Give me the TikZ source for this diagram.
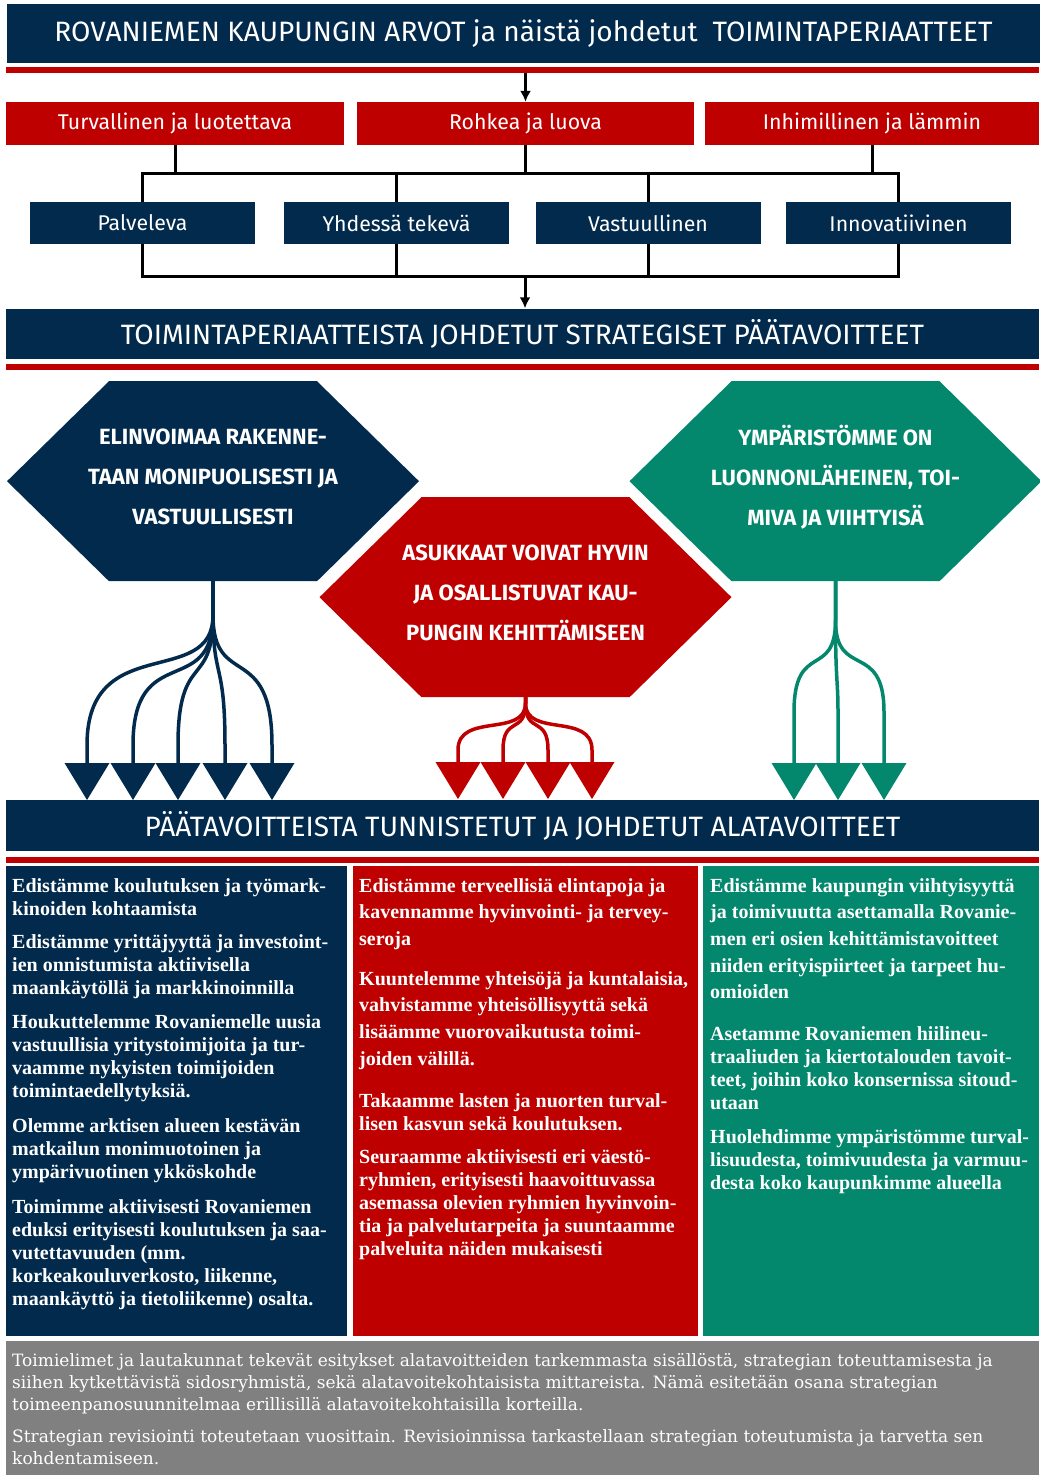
\documentclass[tikz,border=0pt]{standalone}
\usepackage{fontspec}
\setmainfont{Liberation Serif}
\newfontfamily\titlefont{Fira Sans}
\newfontfamily\notefont{DejaVu Serif}
\usetikzlibrary{arrows.meta}
\definecolor{rvnavy}{HTML}{022A4C}
\definecolor{rvred}{HTML}{BE0000}
\definecolor{rvgreen}{HTML}{03876D}
\definecolor{rvgray}{HTML}{808080}
\pgfdeclarelayer{back}
\pgfsetlayers{back,main}

\begin{document}
\begin{tikzpicture}[x=1pt,y=-1pt,>={Latex[length=11pt,width=11pt]},
  bar/.style={fill=rvnavy,text=white,minimum width=1033pt,inner sep=0pt,font=\titlefont\fontsize{28}{32}\selectfont},
  rule/.style={fill=rvred,minimum width=1033pt,minimum height=6pt,inner sep=0pt},
  value/.style={fill=rvred,text=white,minimum height=43pt,inner sep=0pt,font=\titlefont\fontsize{21.3}{24}\selectfont},
  principle/.style={fill=rvnavy,text=white,minimum width=225pt,minimum height=42pt,inner sep=0pt,font=\titlefont\fontsize{21.3}{24}\selectfont},
  conn/.style={line width=3pt},
  goal/.style={text=white,align=center,inner sep=0pt,minimum height=208pt,font=\titlefont\bfseries\fontsize{22}{40}\selectfont},
  branch/.style={line width=3.5pt,draw=#1,-{Triangle[width=45pt,length=37pt,line width=0pt]}},
  col/.style={fill=#1,anchor=north west,minimum height=470pt,inner sep=0pt},
  aim/.style={anchor=north west,align=left,text=white,inner sep=0pt,font=\bfseries\fontsize{20}{23}\selectfont},
  wide/.style={font=\bfseries\fontsize{20}{26.7}\selectfont},
  note/.style={anchor=north west,align=left,text=white,inner sep=0pt,font=\notefont\fontsize{17}{22}\selectfont}]
\useasboundingbox (0,0) rectangle (1039,1475);

\node[bar,minimum height=59pt] (arvot) at (523.5,33.5) {ROVANIEMEN KAUPUNGIN ARVOT ja näistä johdetut~ TOIMINTAPERIAATTEET};
\node[rule] (rule1) at (522.5,70) {};

\node[value,minimum width=338pt] (turva) at (175,123.5) {Turvallinen ja luotettava};
\node[value,minimum width=337pt] (rohkea) at (525.5,123.5) {Rohkea ja luova};
\node[value,minimum width=334pt] (inhi) at (872,123.5) {Inhimillinen ja lämmin};

\node[principle] (palv) at (142.5,223) {Palveleva};
\node[principle] (yhd) at (396.5,223) {Yhdessä tekevä};
\node[principle] (vast) at (648,223) {Vastuullinen};
\node[principle] (inno) at (898.5,223) {Innovatiivinen};

\node[bar,minimum height=50pt] (strat) at (522.5,333.5) {TOIMINTAPERIAATTEISTA JOHDETUT STRATEGISET PÄÄTAVOITTEET};
\node[rule] (rule2) at (522.5,366.5) {};

\coordinate (busT) at (525,173);
\coordinate (busB) at (525,276);
\draw[conn,->] (rule1.south -| rohkea.north) -- (rohkea.north);
\foreach \n in {turva,rohkea,inhi}
  \draw[conn] (\n.south) -- (\n.south |- busT);
\draw[conn] (palv.north) -- (palv.north |- busT) -- (inno.north |- busT) -- (inno.north);
\draw[conn] (palv.south) -- (palv.south |- busB) -- (inno.south |- busB) -- (inno.south);
\foreach \n in {yhd,vast}{
  \draw[conn] (\n.north) -- (\n.north |- busT);
  \draw[conn] (\n.south) -- (\n.south |- busB);
}
\draw[conn,->] (busB) -- (busB |- strat.north);

\node[goal] (elin) at (213,477) {ELINVOIMAA RAKENNE-\\TAAN MONIPUOLISESTI JA\\VASTUULLISESTI};
\node[goal] (asuk) at (525.5,593) {ASUKKAAT VOIVAT HYVIN\\JA OSALLISTUVAT KAU-\\PUNGIN KEHITTÄMISEEN};
\node[goal] (ymp) at (835.5,477) {YMPÄRISTÖMME ON\\LUONNONLÄHEINEN, TOI-\\MIVA JA VIIHTYISÄ};
\begin{pgfonlayer}{back}
\foreach \n/\c in {elin/rvnavy,asuk/rvred,ymp/rvgreen}
  \fill[\c] (\n.south) +(-104,0) -- +(-206,-100) -- +(-104,-200) -- +(104,-200) -- +(206,-100) -- +(104,0) -- cycle;
\end{pgfonlayer}

\foreach \x/\a/\b [count=\i] in {87/690/630,133/700/640,178/690/650,225/680/660,272/690/640}{
  \coordinate (na\i) at (\x,800);
  \draw[branch=rvnavy] (elin.south) -- ++(0,34) .. controls (elin.south |- 0,\a) and (na\i |- 0,\b) .. (na\i |- 0,745) -- (na\i);
}
\foreach \x/\a/\b [count=\i] in {458/738/712,503/735/715,548/735/715,592/738/712}{
  \coordinate (nb\i) at (\x,799);
  \draw[branch=rvred] (asuk.south) -- ++(0,6) .. controls (asuk.south |- 0,\a) and (nb\i |- 0,\b) .. (nb\i |- 0,750) -- (nb\i);
}
\foreach \x/\a/\b [count=\i] in {794/680/640,838/680/680,884/680/640}{
  \coordinate (nc\i) at (\x,800);
  \draw[branch=rvgreen] (ymp.south) -- ++(0,39) .. controls (ymp.south |- 0,\a) and (nc\i |- 0,\b) .. (nc\i |- 0,712) -- (nc\i);
}

\node[bar,minimum height=51pt] (ala) at (522.5,825.5) {PÄÄTAVOITTEISTA TUNNISTETUT JA JOHDETUT ALATAVOITTEET};
\node[rule] (rule3) at (522.5,860) {};

\node[col=rvnavy,minimum width=341pt] (colA) at (6,866) {};
\node[col=rvred,minimum width=345pt] (colB) at (353,866) {};
\node[col=rvgreen,minimum width=336pt] (colC) at (703,866) {};

\node[aim] (a1) at (12,878) {Edistämme koulutuksen ja työmark-\\kinoiden kohtaamista};
\node[aim] (a2) at (12,934) {Edistämme yrittäjyyttä ja investoint-\\ien onnistumista aktiivisella\\maankäytöllä ja markkinoinnilla};
\node[aim] (a3) at (12,1014) {Houkuttelemme Rovaniemelle uusia\\vastuullisia yritystoimijoita ja tur-\\vaamme nykyisten toimijoiden\\toimintaedellytyksiä.};
\node[aim] (a4) at (12,1118) {Olemme arktisen alueen kestävän\\matkailun monimuotoinen ja\\ympärivuotinen ykköskohde};
\node[aim] (a5) at (12,1199) {Toimimme aktiivisesti Rovaniemen\\eduksi erityisesti koulutuksen ja saa-\\vutettavuuden (mm.\\korkeakouluverkosto, liikenne,\\maankäyttö ja tietoliikenne) osalta.};

\node[aim,wide] (b1) at (359,878) {Edistämme terveellisiä elintapoja ja\\kavennamme hyvinvointi- ja tervey-\\seroja};
\node[aim,wide] (b2) at (359,971) {Kuuntelemme yhteisöjä ja kuntalaisia,\\vahvistamme yhteisöllisyyttä sekä\\lisäämme vuorovaikutusta toimi-\\joiden välillä.};
\node[aim] (b3) at (359,1093) {Takaamme lasten ja nuorten turval-\\lisen kasvun sekä koulutuksen.};
\node[aim] (b4) at (359,1149) {Seuraamme aktiivisesti eri väestö-\\ryhmien, erityisesti haavoittuvassa\\asemassa olevien ryhmien hyvinvoin-\\tia ja palvelutarpeita ja suuntaamme\\palveluita näiden mukaisesti};

\node[aim,wide] (c1) at (710,878) {Edistämme kaupungin viihtyisyyttä\\ja toimivuutta asettamalla Rovanie-\\men eri osien kehittämistavoitteet\\niiden erityispiirteet ja tarpeet hu-\\omioiden};
\node[aim] (c2) at (710,1026) {Asetamme Rovaniemen hiilineu-\\traaliuden ja kiertotalouden tavoit-\\teet, joihin koko konsernissa sitoud-\\utaan};
\node[aim] (c3) at (710,1129) {Huolehdimme ympäristömme turval-\\lisuudesta, toimivuudesta ja varmuu-\\desta koko kaupunkimme alueella};

\node[fill=rvgray,anchor=north west,minimum width=1033pt,minimum height=134pt,inner sep=0pt] (gray) at (6,1341) {};
\node[note] (n1) at (12,1353) {Toimielimet ja lautakunnat tekevät esitykset alatavoitteiden tarkemmasta sisällöstä, strategian toteuttamisesta ja\\siihen kytkettävistä sidosryhmistä, sekä alatavoitekohtaisista mittareista. Nämä esitetään osana strategian\\toimeenpanosuunnitelmaa erillisillä alatavoitekohtaisilla korteilla.};
\node[note] (n2) at (12,1429) {Strategian revisiointi toteutetaan vuosittain. Revisioinnissa tarkastellaan strategian toteutumista ja tarvetta sen\\kohdentamiseen.};
\end{tikzpicture}
\end{document}
